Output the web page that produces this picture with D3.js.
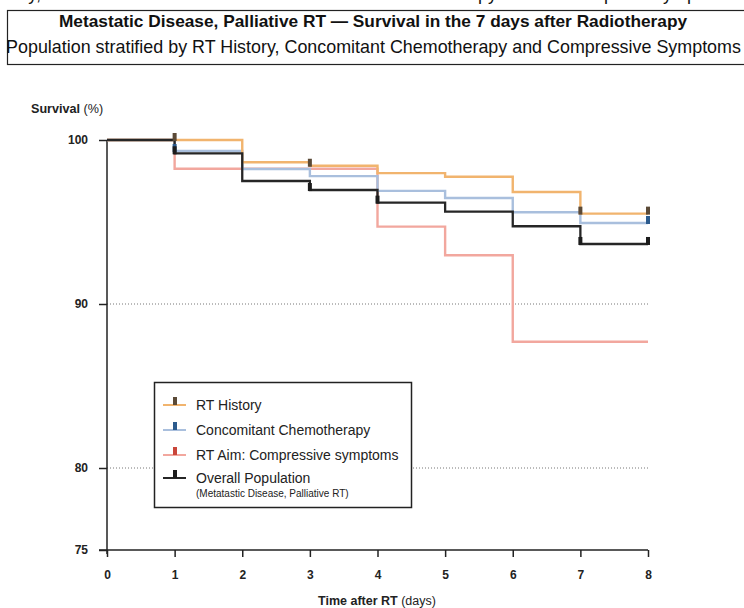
<!DOCTYPE html>
<html>
<head>
<meta charset="utf-8">
<script src="https://cdn.jsdelivr.net/npm/d3@7"></script>
<style>
  html, body { margin: 0; padding: 0; background: #fff; }
  svg { display: block; font-family: "Liberation Sans", Arial, Helvetica, sans-serif; }
</style>
</head>
<body>
<svg id="chart" width="744" height="608"></svg>
<script>
// Survival (%) at the start of each day interval [d, d+1), d = 0..7
const days = [0, 1, 2, 3, 4, 5, 6, 7, 8];
const rtHistory   = [100, 100, 98.64, 98.43, 97.98, 97.76, 96.83, 95.51];
const chemo       = [100, 99.33, 98.23, 97.80, 96.90, 96.46, 95.59, 94.94];
const compressive = [100, 98.25, 98.25, 98.25, 94.72, 92.97, 87.70, 87.70];
const overall     = [100, 99.19, 97.50, 96.95, 96.18, 95.63, 94.74, 93.66];

// Days carrying a censoring mark
const rtHistoryCensored   = [1, 3, 7, 8];
const chemoCensored       = [1, 8];
const compressiveCensored = [];
const overallCensored     = [1, 3, 4, 7, 8];

const yTicks = [75, 80, 90, 100];
const gridTicks = [80, 90];
const xTicks = days;

const seriesNames = [
  "RT History",
  "Concomitant Chemotherapy",
  "RT Aim: Compressive symptoms",
  "Overall Population"
];

const series = [
  { name: seriesNames[2], values: compressive, censored: compressiveCensored, line: "#f2a79e", mark: "#c9463a" },
  { name: seriesNames[1], values: chemo,       censored: chemoCensored,       line: "#a9bfdd", mark: "#2c5b8d" },
  { name: seriesNames[0], values: rtHistory,   censored: rtHistoryCensored,   line: "#f1b46e", mark: "#5b4a37" },
  { name: seriesNames[3], values: overall,     censored: overallCensored,     line: "#262626", mark: "#1c1c1c" }
];

const svg = d3.select("#chart");

// Caption line running off the top edge
svg.append("text")
  .attr("y", 0)
  .attr("font-size", 18)
  .attr("fill", "#111")
  .call(t => {
    t.append("tspan").attr("x", 41).attr("text-anchor", "end").text("and History,");
    t.append("tspan").attr("x", 497).attr("text-anchor", "end").text("Chemotherapy");
    t.append("tspan").attr("x", 566).attr("text-anchor", "start").text("Compress");
    t.append("tspan").attr("x", 651).attr("text-anchor", "start").text("Symptoms");
  });

// Title box
svg.append("rect")
  .attr("x", 7.5).attr("y", 10.5)
  .attr("width", 760).attr("height", 54)
  .attr("fill", "none").attr("stroke", "#222").attr("stroke-width", 1.2);

svg.append("text")
  .attr("x", 373).attr("y", 27)
  .attr("text-anchor", "middle")
  .attr("font-size", 17.3).attr("font-weight", "bold").attr("fill", "#111")
  .text("Metastatic Disease, Palliative RT \u2014 Survival in the 7 days after Radiotherapy");

svg.append("text")
  .attr("x", 373.5).attr("y", 53)
  .attr("text-anchor", "middle")
  .attr("font-size", 17.9).attr("fill", "#111")
  .text("Population stratified by RT History, Concomitant Chemotherapy and Compressive Symptoms");

// Scales
const x = d3.scaleLinear().domain([0, 8]).range([107, 648]);
const y = d3.scaleLinear().domain([75, 100]).range([550, 140]);

// Dotted reference lines
svg.append("g").selectAll("line")
  .data(gridTicks)
  .join("line")
  .attr("x1", x(0)).attr("x2", x(8))
  .attr("y1", d => y(d)).attr("y2", d => y(d))
  .attr("stroke", "#777").attr("stroke-width", 1)
  .attr("stroke-dasharray", "1,2");

// Y axis
const yAxis = svg.append("g")
  .attr("transform", `translate(${x(0)},0)`)
  .call(d3.axisLeft(y).tickValues(yTicks).tickSize(8).tickPadding(11));
yAxis.select(".domain")
  .attr("d", `M0,${y(100)}V${y(75) + 4}`)
  .attr("stroke", "#222").attr("stroke-width", 1.5);
yAxis.selectAll(".tick line").attr("stroke", "#222").attr("stroke-width", 1.5);
yAxis.selectAll(".tick text")
  .attr("font-size", 12).attr("font-weight", "bold").attr("fill", "#222")
  .attr("font-family", "'Liberation Sans', Arial, sans-serif");

// X axis
const xAxis = svg.append("g")
  .attr("transform", `translate(0,${y(75)})`)
  .call(d3.axisBottom(x).tickValues(xTicks).tickSize(7).tickPadding(13));
xAxis.select(".domain")
  .attr("d", `M${x(0) - 8},0H${x(8)}`)
  .attr("stroke", "#222").attr("stroke-width", 1.5);
xAxis.selectAll(".tick line").attr("stroke", "#222").attr("stroke-width", 1.5);
xAxis.selectAll(".tick text")
  .attr("font-size", 12).attr("font-weight", "bold").attr("fill", "#222")
  .attr("font-family", "'Liberation Sans', Arial, sans-serif");

// Axis titles
svg.append("text")
  .attr("x", 31).attr("y", 112.5)
  .attr("font-size", 12.6).attr("fill", "#222")
  .call(t => {
    t.append("tspan").attr("font-weight", "bold").text("Survival");
    t.append("tspan").text(" (%)");
  });

svg.append("text")
  .attr("x", 377).attr("y", 604.5)
  .attr("text-anchor", "middle")
  .attr("font-size", 12.5).attr("fill", "#222")
  .call(t => {
    t.append("tspan").attr("font-weight", "bold").text("Time after RT");
    t.append("tspan").text(" (days)");
  });

// Step curves
const line = d3.line()
  .x(d => x(d.day))
  .y(d => y(d.v))
  .curve(d3.curveStepAfter);

const pointsOf = vals => days.map((d, i) => ({ day: d, v: vals[Math.min(i, vals.length - 1)] }));

const curves = svg.append("g");
series.forEach(s => {
  curves.append("path")
    .datum(pointsOf(s.values))
    .attr("d", line)
    .attr("fill", "none")
    .attr("stroke", s.line)
    .attr("stroke-width", s.line === "#262626" ? 2.3 : 2.4)
    .attr("stroke-linejoin", "miter");
});

// Censoring marks
const marks = svg.append("g");
series.forEach(s => {
  marks.selectAll(null)
    .data(s.censored)
    .join("rect")
    .attr("x", d => x(d) - 2)
    .attr("y", d => y(s.values[Math.min(d, s.values.length - 1)]) - 7)
    .attr("width", 4)
    .attr("height", 8)
    .attr("fill", s.mark);
});

// Legend
const legend = svg.append("g");
legend.append("rect")
  .attr("x", 154.5).attr("y", 382.5)
  .attr("width", 257).attr("height", 125)
  .attr("fill", "#fff").attr("stroke", "#222").attr("stroke-width", 1.5);

const legendRows = [
  { s: series[2], y: 405 },
  { s: series[1], y: 430 },
  { s: series[0], y: 455 },
  { s: series[3], y: 478 }
];

legendRows.forEach(r => {
  legend.append("line")
    .attr("x1", 163).attr("x2", 186)
    .attr("y1", r.y).attr("y2", r.y)
    .attr("stroke", r.s.line).attr("stroke-width", 2);
  legend.append("rect")
    .attr("x", 173).attr("y", r.y - 8)
    .attr("width", 4).attr("height", 8)
    .attr("fill", r.s.mark);
  legend.append("text")
    .attr("x", 196).attr("y", r.y + 5)
    .attr("font-size", 14).attr("fill", "#222")
    .text(r.s.name);
});

legend.append("text")
  .attr("x", 196).attr("y", 497)
  .attr("font-size", 10).attr("fill", "#222")
  .text("(Metatastic Disease, Palliative RT)");
</script>
</body>
</html>
